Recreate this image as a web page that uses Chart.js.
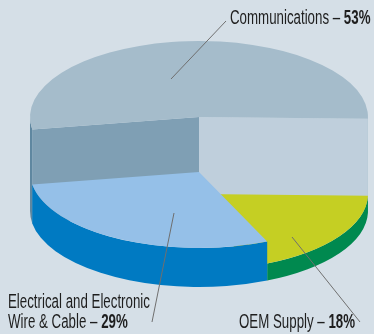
<!DOCTYPE html>
<html>
<head>
<meta charset="utf-8">
<script src="https://cdn.jsdelivr.net/npm/chart.js@4.4.1/dist/chart.umd.min.js"></script>
<style>
  html, body { margin: 0; padding: 0; background: #d5dfe7; }
  #wrap { width: 374px; height: 334px; position: relative; }
</style>
</head>
<body>
<div id="wrap"><canvas id="chart" width="374" height="334"></canvas></div>
<script>
// Market share by segment, in percent
const categories = ['Communications', 'OEM Supply', 'Electrical and Electronic Wire & Cable'];
const shares = [53, 18, 29];
const labelLines = [['Communications'], ['OEM Supply'], ['Electrical and Electronic', 'Wire & Cable']];

// Look of the extruded pie
const topColors  = ['#a5bccb', '#c5cf23', '#95c0e8'];
const wallColors = ['#5f87a0', '#00894f', '#007ac2'];
const cutColors  = [['#7f9fb4', '#bfcfdc'], ['#9aa81c', '#9aa81c'], ['#6f9fcc', '#6f9fcc']];
const sliceDepth = [94, 17, 39];   // px height of each block above the floor
const TILT = 76 / 169;             // vertical squash of the disc
const FLOOR_DROP = 44;             // floor centre below the chart centre

// Label placement: text origin and leader line
const labelStyle = [
  { x: 230, y: 24,  lineH: 20, leader: [[226, 21], [171, 79]] },
  { x: 239, y: 328, lineH: 20, leader: [[360, 322], [292, 237]] },
  { x: 8,   y: 308, lineH: 20, leader: [[152, 322], [174, 213]] }
];
const FONT_PX = 20;
const CONDENSE = 0.665;
const FONT_FAMILY = '"Liberation Sans", Arial, sans-serif';

const pie3d = {
  id: 'pie3d',
  beforeDatasetsDraw(chart) {
    const ctx = chart.ctx;
    const meta = chart.getDatasetMeta(0);
    meta.data.forEach((arc, i) => {
      const p = arc.getProps(['x', 'y', 'startAngle', 'endAngle', 'outerRadius'], true);
      const x = p.x, rx = p.outerRadius, ry = rx * TILT;
      const floorY = p.y + FLOOR_DROP;
      const topY = floorY - sliceDepth[i];

      // radial cut faces that turn toward the viewer
      const faces = [
        [p.startAngle, Math.cos(p.startAngle) < 0, cutColors[i][0]],
        [p.endAngle, Math.cos(p.endAngle) > 0, cutColors[i][1]]
      ];
      faces.forEach(([a, visible, col]) => {
        if (!visible) return;
        const ex = x + rx * Math.cos(a);
        const eyT = topY + ry * Math.sin(a);
        ctx.beginPath();
        ctx.moveTo(x, topY);
        ctx.lineTo(ex, eyT);
        ctx.lineTo(ex, eyT + sliceDepth[i]);
        ctx.lineTo(x, floorY);
        ctx.closePath();
        ctx.fillStyle = col;
        ctx.fill();
      });

      // curved outer wall, front half only
      ctx.fillStyle = wallColors[i];
      for (let n = -1; n <= 2; n++) {
        const lo = Math.max(p.startAngle, 2 * Math.PI * n);
        const hi = Math.min(p.endAngle, 2 * Math.PI * n + Math.PI);
        if (hi <= lo) continue;
        ctx.beginPath();
        ctx.ellipse(x, topY, rx, ry, 0, lo, hi);
        ctx.ellipse(x, floorY, rx, ry, 0, hi, lo, true);
        ctx.closePath();
        ctx.fill();
      }

      // top face: the library's own arc, squashed onto its level
      ctx.save();
      ctx.translate(0, topY);
      ctx.scale(1, TILT);
      ctx.translate(0, -p.y);
      arc.draw(ctx);
      ctx.restore();
    });
    return false;
  },
  afterDraw(chart) {
    const ctx = chart.ctx;
    ctx.save();
    // leader lines
    ctx.strokeStyle = '#6f6f6f';
    ctx.lineWidth = 1;
    labelStyle.forEach(s => {
      ctx.beginPath();
      ctx.moveTo(s.leader[0][0], s.leader[0][1]);
      ctx.lineTo(s.leader[1][0], s.leader[1][1]);
      ctx.stroke();
    });
    // labels in a condensed face, percentage in bold
    ctx.fillStyle = '#1e1e1e';
    ctx.textBaseline = 'alphabetic';
    ctx.textAlign = 'left';
    labelLines.forEach((lines, i) => {
      const s = labelStyle[i];
      lines.forEach((line, j) => {
        const runs = [{ t: line, b: false }];
        if (j === lines.length - 1) {
          runs[0].t = line + ' \u2013 ';
          runs.push({ t: shares[i] + '%', b: true });
        }
        ctx.save();
        ctx.translate(s.x, s.y + j * s.lineH);
        ctx.scale(CONDENSE, 1);
        let cx = 0;
        runs.forEach(r => {
          ctx.font = (r.b ? 'bold ' : '') + FONT_PX + 'px ' + FONT_FAMILY;
          ctx.fillText(r.t, cx, 0);
          cx += ctx.measureText(r.t).width;
        });
        ctx.restore();
      });
    });
    ctx.restore();
  }
};

new Chart(document.getElementById('chart'), {
  type: 'pie',
  data: {
    labels: categories,
    datasets: [{
      data: shares,
      backgroundColor: topColors,
      borderWidth: 0
    }]
  },
  options: {
    responsive: false,
    animation: false,
    rotation: 260.6,
    radius: 169,
    layout: { padding: { left: 24 } },
    events: [],
    plugins: {
      legend: { display: false },
      tooltip: { enabled: false }
    }
  },
  plugins: [pie3d]
});
</script>
</body>
</html>
